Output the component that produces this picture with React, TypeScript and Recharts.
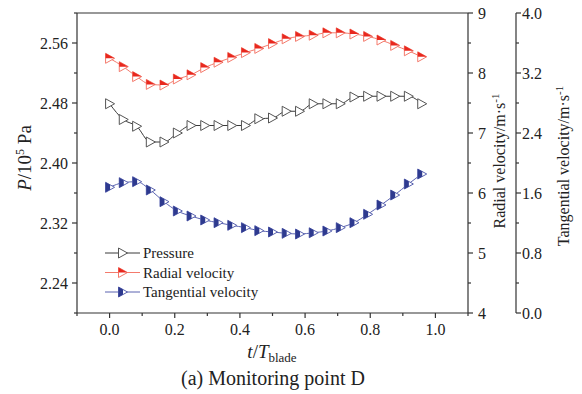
import { ComposedChart, Line, XAxis, YAxis, ReferenceLine, Legend } from "recharts";

// t/T_blade sample instants (24 per blade period)
const time = [0, 0.042, 0.083, 0.125, 0.167, 0.208, 0.25, 0.292, 0.333, 0.375, 0.417, 0.458,
  0.5, 0.542, 0.583, 0.625, 0.667, 0.708, 0.75, 0.792, 0.833, 0.875, 0.917, 0.958];

const pressure = [2.479, 2.458, 2.449, 2.428, 2.428, 2.44, 2.45, 2.45, 2.45, 2.45, 2.45, 2.459,
  2.46, 2.469, 2.469, 2.479, 2.479, 2.479, 2.488, 2.489, 2.489, 2.489, 2.489, 2.479];

const radial = [8.245, 8.106, 7.94, 7.81, 7.8, 7.9, 7.97, 8.09, 8.18, 8.26, 8.34, 8.41,
  8.49, 8.57, 8.61, 8.63, 8.67, 8.67, 8.65, 8.61, 8.55, 8.46, 8.37, 8.27];

const tangential = [1.676, 1.738, 1.751, 1.64, 1.484, 1.36, 1.293, 1.24, 1.204, 1.169, 1.138, 1.098,
  1.08, 1.062, 1.053, 1.07, 1.093, 1.138, 1.204, 1.316, 1.44, 1.573, 1.72, 1.853];

const xTicks = [-0.1, 0, 0.1, 0.2, 0.3, 0.4, 0.5, 0.6, 0.7, 0.8, 0.9, 1.0, 1.1];
const pTicks = [2.2, 2.24, 2.28, 2.32, 2.36, 2.4, 2.44, 2.48, 2.52, 2.56, 2.6];
const rTicks = [4, 4.5, 5, 5.5, 6, 6.5, 7, 7.5, 8, 8.5, 9];
const tTicks = [0, 0.4, 0.8, 1.2, 1.6, 2.0, 2.4, 2.8, 3.2, 3.6, 4.0];

const seriesNames = ["Pressure", "Radial velocity", "Tangential velocity"];

const C = {
  axis: "#333",
  pLine: "#3a3a3a",
  pMark: "#555",
  rLine: "#f47a6c",
  rMark: "#e8281e",
  tLine: "#5a63b0",
  tMark: "#2e3a8f",
};

const FONT = "'Liberation Serif', 'Times New Roman', serif";

const data = time.map((t, i) => ({ t, p: pressure[i], r: radial[i], tg: tangential[i] }));

const isMajorX = (v: number) => v >= 0 && v <= 1 && Math.round(v * 10) % 2 === 0;
const isMajorP = (v: number) => Math.round(v * 100) % 8 === 0;
const isMajorR = (v: number) => Number.isInteger(v);
const isMajorT = (v: number) => Math.round(v * 10) % 8 === 0;

function Marker({ cx, cy, kind }: { cx: number; cy: number; kind: string }) {
  const l = cx - 4, r = cx + 5, t = cy - 5, b = cy + 5;
  const tri = `${l},${t} ${l},${b} ${r},${cy}`;
  if (kind === "p")
    return <polygon points={tri} fill="#fff" stroke={C.pMark} strokeWidth={1} />;
  if (kind === "r")
    return (
      <g>
        <polygon points={tri} fill="#fff" stroke={C.rLine} strokeWidth={1} />
        <polygon points={`${l},${t} ${r},${cy} ${l},${cy}`} fill={C.rMark} />
      </g>
    );
  return (
    <g>
      <polygon points={tri} fill="#fff" stroke={C.tLine} strokeWidth={1} />
      <polygon points={`${l},${t} ${l},${b} ${cx + 0.5},${cy + 2.5} ${cx + 0.5},${cy - 2.5}`} fill={C.tMark} />
    </g>
  );
}

const dotFor = (kind: string) => (props: any) =>
  props.cx == null ? <g key={props.key} /> : <Marker key={props.key} cx={props.cx} cy={props.cy} kind={kind} />;

function LeftTick(props: any) {
  const { x, y, payload } = props;
  const v = payload.value;
  const major = isMajorP(v);
  const ax = x + 9;
  return (
    <g>
      <line x1={ax} x2={ax - (major ? 5 : 3)} y1={y} y2={y} stroke={C.axis} strokeWidth={1.2} />
      {major && (
        <text x={x} y={y} dy={5.5} textAnchor="end" fontSize={16} fontFamily={FONT} fill="#222">
          {v.toFixed(2)}
        </text>
      )}
    </g>
  );
}

const rightTick = (isMajor: (v: number) => boolean, fmt: (v: number) => string, gap: number) =>
  function RightTick(props: any) {
    const { x, y, payload } = props;
    const v = payload.value;
    const major = isMajor(v);
    const ax = x - gap;
    return (
      <g>
        <line x1={ax} x2={ax + (major ? 5 : 3)} y1={y} y2={y} stroke={C.axis} strokeWidth={1.2} />
        {major && (
          <text x={x} y={y} dy={5.5} textAnchor="start" fontSize={16} fontFamily={FONT} fill="#222">
            {fmt(v)}
          </text>
        )}
      </g>
    );
  };

const RTick = rightTick(isMajorR, (v) => String(v), 10);
const TTick = rightTick(isMajorT, (v) => v.toFixed(1), 6);

function BottomTick(props: any) {
  const { x, y, payload } = props;
  const v = payload.value;
  const major = isMajorX(v);
  const ay = y - 7;
  return (
    <g>
      <line x1={x} x2={x} y1={ay} y2={ay + (major ? 5 : 3)} stroke={C.axis} strokeWidth={1.2} />
      {major && (
        <text x={x} y={y} dy={15} textAnchor="middle" fontSize={16} fontFamily={FONT} fill="#222">
          {v.toFixed(1)}
        </text>
      )}
    </g>
  );
}

function LegendBox() {
  const rows = [
    { name: seriesNames[0], kind: "p", color: C.pLine },
    { name: seriesNames[1], kind: "r", color: C.rLine },
    { name: seriesNames[2], kind: "t", color: C.tLine },
  ];
  return (
    <svg width={190} height={60}>
      {rows.map((row, i) => {
        const y = 10 + i * 19.5;
        return (
          <g key={row.name}>
            <line x1={5} x2={40} y1={y} y2={y} stroke={row.color} strokeWidth={1} />
            <Marker cx={22.5} cy={y} kind={row.kind} />
            <text x={43} y={y} dy={5} fontSize={15} fontFamily={FONT} fill="#222">
              {row.name}
            </text>
          </g>
        );
      })}
    </svg>
  );
}

export default function App() {
  return (
    <div style={{ position: "absolute", left: 0, top: 0, width: 582, height: 394, background: "#fff" }}>
      <ComposedChart width={582} height={394} data={data} margin={{ top: 13, right: 0, bottom: 0, left: 0 }}>
        <XAxis
          dataKey="t"
          type="number"
          domain={[-0.1, 1.1]}
          ticks={xTicks}
          interval={0}
          height={81}
          tickSize={5}
          tickMargin={2}
          tickLine={false}
          tick={BottomTick}
          axisLine={{ stroke: C.axis, strokeWidth: 1.2 }}
        />
        <YAxis
          yAxisId="p"
          orientation="left"
          type="number"
          domain={[2.2, 2.6]}
          ticks={pTicks}
          interval={0}
          width={77}
          tickSize={5}
          tickMargin={4}
          tickLine={false}
          tick={LeftTick}
          axisLine={{ stroke: C.axis, strokeWidth: 1.2 }}
        />
        <YAxis
          yAxisId="r"
          orientation="right"
          type="number"
          domain={[4, 9]}
          ticks={rTicks}
          interval={0}
          width={48}
          tickSize={5}
          tickMargin={5}
          tickLine={false}
          tick={RTick}
          axisLine={{ stroke: C.axis, strokeWidth: 1.2 }}
        />
        <YAxis
          yAxisId="t"
          orientation="right"
          type="number"
          domain={[0, 4]}
          ticks={tTicks}
          interval={0}
          width={66}
          tickSize={4}
          tickMargin={2}
          tickLine={false}
          tick={TTick}
          axisLine={{ stroke: C.axis, strokeWidth: 1.2 }}
        />
        <ReferenceLine yAxisId="p" y={2.6} stroke={C.axis} strokeWidth={1.2} />
        <Legend
          layout="horizontal"
          verticalAlign="middle"
          align="center"
          content={() => <LegendBox />}
          wrapperStyle={{ left: 100, top: 243, width: 190, height: 60 }}
        />
        <Line yAxisId="p" dataKey="p" name={seriesNames[0]} type="monotone" stroke={C.pLine} strokeWidth={1}
          dot={dotFor("p")} activeDot={false} isAnimationActive={false} />
        <Line yAxisId="r" dataKey="r" name={seriesNames[1]} type="monotone" stroke={C.rLine} strokeWidth={1}
          dot={dotFor("r")} activeDot={false} isAnimationActive={false} />
        <Line yAxisId="t" dataKey="tg" name={seriesNames[2]} type="monotone" stroke={C.tLine} strokeWidth={1}
          dot={dotFor("t")} activeDot={false} isAnimationActive={false} />
      </ComposedChart>
      <svg width={582} height={394} style={{ position: "absolute", left: 0, top: 0, pointerEvents: "none" }}>
        <text transform="translate(31,158) rotate(-90)" textAnchor="middle" fontSize={19} fontFamily={FONT} fill="#222">
          <tspan fontStyle="italic">P</tspan>/10<tspan dy={-7} fontSize={12}>5</tspan>
          <tspan dy={7}> Pa</tspan>
        </text>
        <text transform="translate(505,161) rotate(-90)" textAnchor="middle" fontSize={16} fontFamily={FONT} fill="#222">
          Radial velocity/m·s<tspan dy={-6} fontSize={11}>-1</tspan>
        </text>
        <text transform="translate(569,166) rotate(-90)" textAnchor="middle" fontSize={16} fontFamily={FONT} fill="#222">
          Tangential velocity/m·s<tspan dy={-6} fontSize={11}>-1</tspan>
        </text>
        <text x={272} y={358} textAnchor="middle" fontSize={19} fontFamily={FONT} fill="#222">
          <tspan fontStyle="italic">t</tspan>/<tspan fontStyle="italic">T</tspan>
          <tspan dy={4} fontSize={13}>blade</tspan>
        </text>
        <text x={273} y={385} textAnchor="middle" fontSize={20} fontFamily={FONT} fill="#222">
          (a) Monitoring point D
        </text>
      </svg>
    </div>
  );
}
